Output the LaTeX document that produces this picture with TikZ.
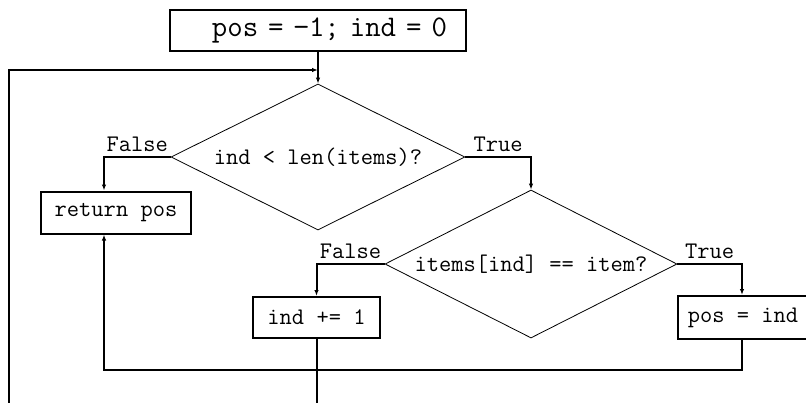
\documentclass[tikz,border=0pt]{standalone}
\usepackage{fontspec}
\usetikzlibrary{arrows.meta,shapes.geometric}
\begin{document}
\frenchspacing
\begin{tikzpicture}[x=1pt,y=-1pt,
  font=\ttfamily\fontsize{23.8}{28}\selectfont,
  box/.style={draw, line width=2pt, inner sep=0pt},
  dec/.style={diamond, draw, line width=0.8pt, inner sep=0pt},
  conn/.style={line width=2pt},
  arr/.style={conn, -{Latex[length=6pt,width=4.5pt]}},
  lab/.style={anchor=south, inner sep=0pt, yshift=4pt}]
\useasboundingbox (0,0) rectangle (806,402);
\clip (0,0) rectangle (806,402);
\node[box, minimum width=296pt, minimum height=41pt, text width=258pt, align=right, inner xsep=19pt] (init) at (318,30.5) {\resizebox{235pt}{!}{pos = −1; ind = 0}};
\node[dec, aspect=2.014, minimum width=294pt, minimum height=146pt] (d1) at (318,157) {ind < len(items)?};
\node[box, minimum width=150pt, minimum height=42pt] (ret) at (116,212.5) {return pos};
\node[dec, aspect=1.973, minimum width=292pt, minimum height=148pt] (d2) at (531,264) {items[ind] == item?};
\node[box, minimum width=127pt, minimum height=41pt] (inc) at (316.5,317.5) {ind += 1};
\node[box, minimum width=130pt, minimum height=43pt] (set) at (743,317.5) {pos = ind};
\coordinate (j1) at (318,70);
\coordinate (j2) at (104,370);
\coordinate (lb) at (9,420);
\draw[arr] (init.south) -- (d1.north);
\draw[arr] (d1.west) -| node[lab, pos=0.25] {False} ([xshift=-12pt]ret.north);
\draw[arr] (d1.east) -| node[lab, pos=0.25] {True} (d2.north);
\draw[arr] (d2.west) -| node[lab, pos=0.25] {False} (inc.north);
\draw[arr] (d2.east) -| node[lab, pos=0.25] {True} ([xshift=-1pt]set.north);
\draw[arr] ([xshift=-1pt]set.south) |- (j2) -- ([xshift=-12pt]ret.south);
\draw[arr] (inc.south) |- (lb) |- (j1);
\end{tikzpicture}
\end{document}
